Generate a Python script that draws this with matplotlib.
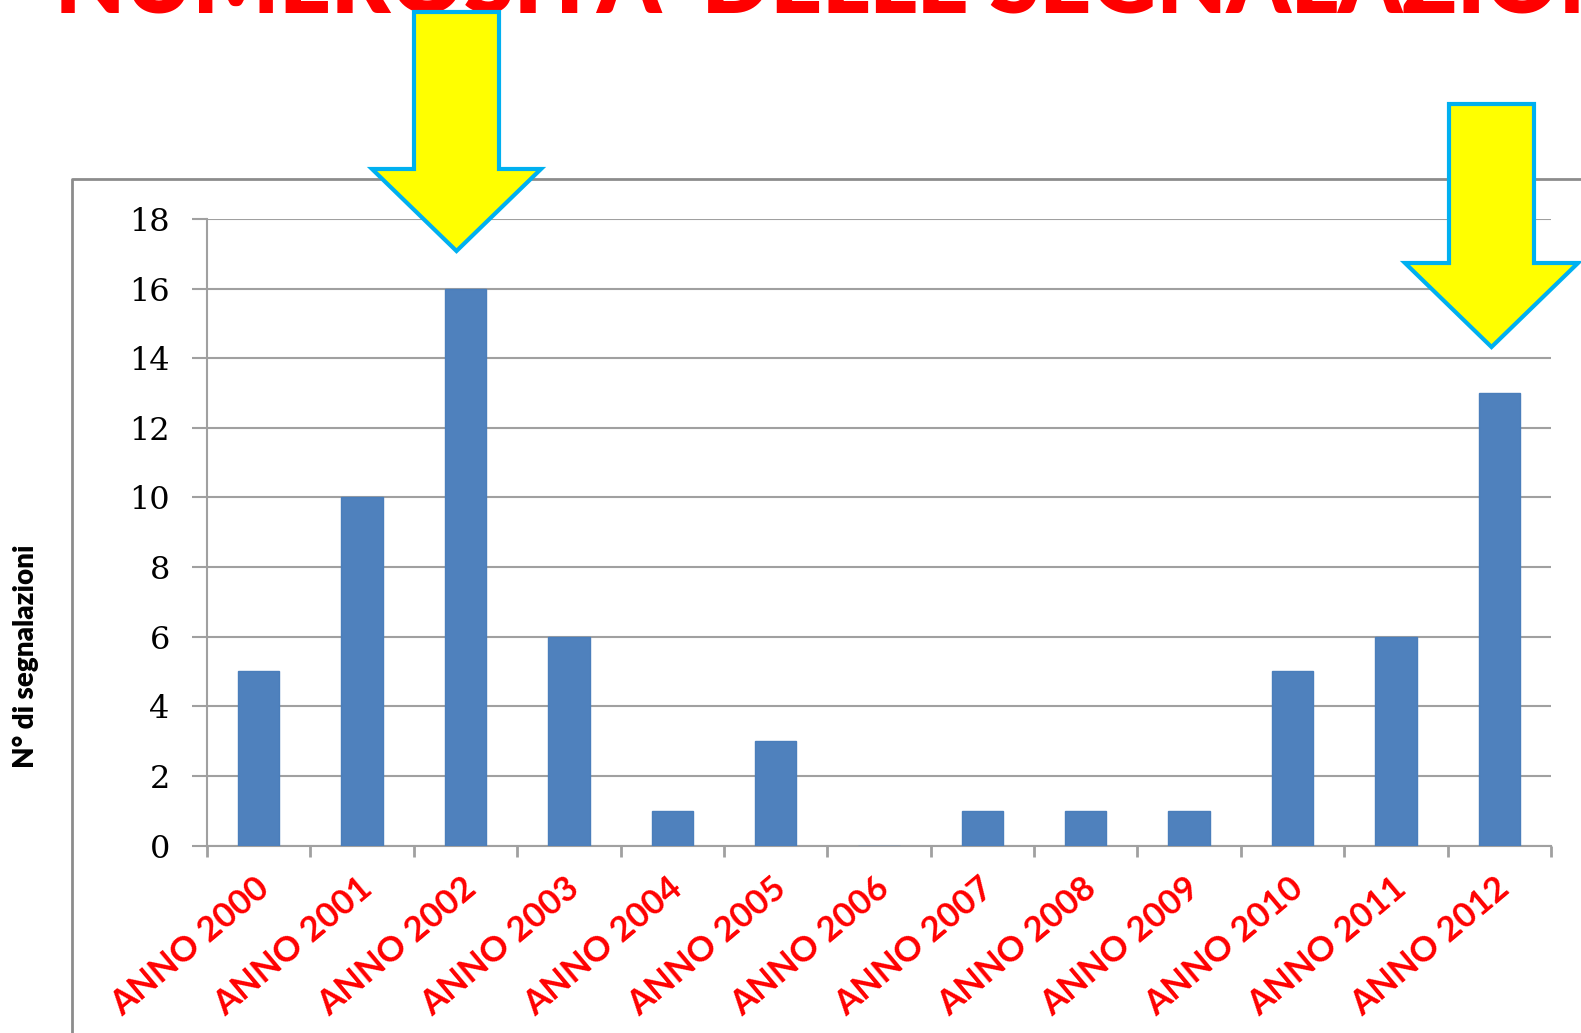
import numpy as np
import matplotlib.pyplot as plt
from matplotlib.patches import Polygon
from matplotlib.lines import Line2D
from matplotlib.transforms import ScaledTranslation

years = ['ANNO 2000', 'ANNO 2001', 'ANNO 2002', 'ANNO 2003', 'ANNO 2004',
         'ANNO 2005', 'ANNO 2006', 'ANNO 2007', 'ANNO 2008', 'ANNO 2009',
         'ANNO 2010', 'ANNO 2011', 'ANNO 2012']
counts = [5, 10, 16, 6, 1, 3, 0, 1, 1, 1, 5, 6, 13]
y_ticks = [0, 2, 4, 6, 8, 10, 12, 14, 16, 18]

W, H = 1581, 1033
fig = plt.figure(figsize=(W / 100, H / 100), dpi=100)
fig.patch.set_facecolor('white')

def px(x, y):
    # pixel position measured from the top-left -> figure fraction
    return (x / W, 1 - y / H)

grid_col = '#a0a0a0'
ax = fig.add_axes([207 / W, (H - 845.5) / H, 1344 / W, (845.5 - 219) / H])
x = np.arange(len(years))
ax.bar(x, counts, width=0.4, color='#4f81bd', edgecolor='#4a7ebb', linewidth=1, zorder=3)
ax.set_xlim(-0.5, len(years) - 0.5)
ax.set_ylim(0, 18)

ax.set_yticks(y_ticks)
ax.set_yticklabels([str(v) for v in y_ticks], fontfamily='DejaVu Serif', fontsize=23)
ax.yaxis.grid(True, color=grid_col, linewidth=1.5, zorder=0)
ax.tick_params(axis='y', length=10.8, width=1.5, color=grid_col, pad=16)

ax.set_xticks(x)
ax.set_xticklabels(years, rotation=40, ha='right', va='top', rotation_mode='anchor',
                   fontfamily='Lato', fontweight='bold', fontsize=25, color='#ff0000')
ax.set_xticks(np.arange(-0.5, len(years), 1), minor=True)
ax.tick_params(axis='x', which='major', length=0, pad=19)
ax.tick_params(axis='x', which='minor', length=8, width=2, color=grid_col)
for lab in ax.get_xticklabels():
    lab.set_transform(lab.get_transform() + ScaledTranslation(-4 / 100, 0, fig.dpi_scale_trans))

for s in ['top', 'right']:
    ax.spines[s].set_visible(False)
for s in ['left', 'bottom']:
    ax.spines[s].set_color(grid_col)
    ax.spines[s].set_linewidth(1.5)
ax.set_facecolor('none')

# y label
fig.text(26 / W, 1 - 656 / H, 'N° di segnalazioni', rotation=90, ha='center', va='center',
         fontfamily='Lato', fontweight='heavy', fontsize=20)

# outer frame (left + top only visible)
fx = [px(72, 1040)[0], px(72, 179)[0], px(1590, 179)[0]]
fy = [px(72, 1040)[1], px(72, 179)[1], px(1590, 179)[1]]
fig.add_artist(Line2D(fx, fy, color='#8c8c8c', linewidth=2, transform=fig.transFigure, zorder=1))

# cropped title (cut at the top edge as in the source slide)
fig.text(55 / W, 1 - 13 / H, "NUMEROSITA' DELLE SEGNALAZIONI", ha='left', va='baseline',
         fontfamily='Lato', fontweight='heavy', fontsize=65, color='#ff0000')

def down_arrow(x0, x1, top, wing_y, wl, wr, tip):
    cx = (x0 + x1) / 2
    pts = [px(x0, top), px(x1, top), px(x1, wing_y), px(wr, wing_y),
           px(cx, tip), px(wl, wing_y), px(x0, wing_y)]
    fig.add_artist(Polygon(pts, closed=True, facecolor='#ffff00', edgecolor='#00b0f0',
                           linewidth=3, transform=fig.transFigure, zorder=5))

down_arrow(414, 499, 12, 169, 372, 541, 251)
down_arrow(1449, 1534, 104, 263, 1405, 1578, 347)

fig.savefig('out.png', dpi=100)
